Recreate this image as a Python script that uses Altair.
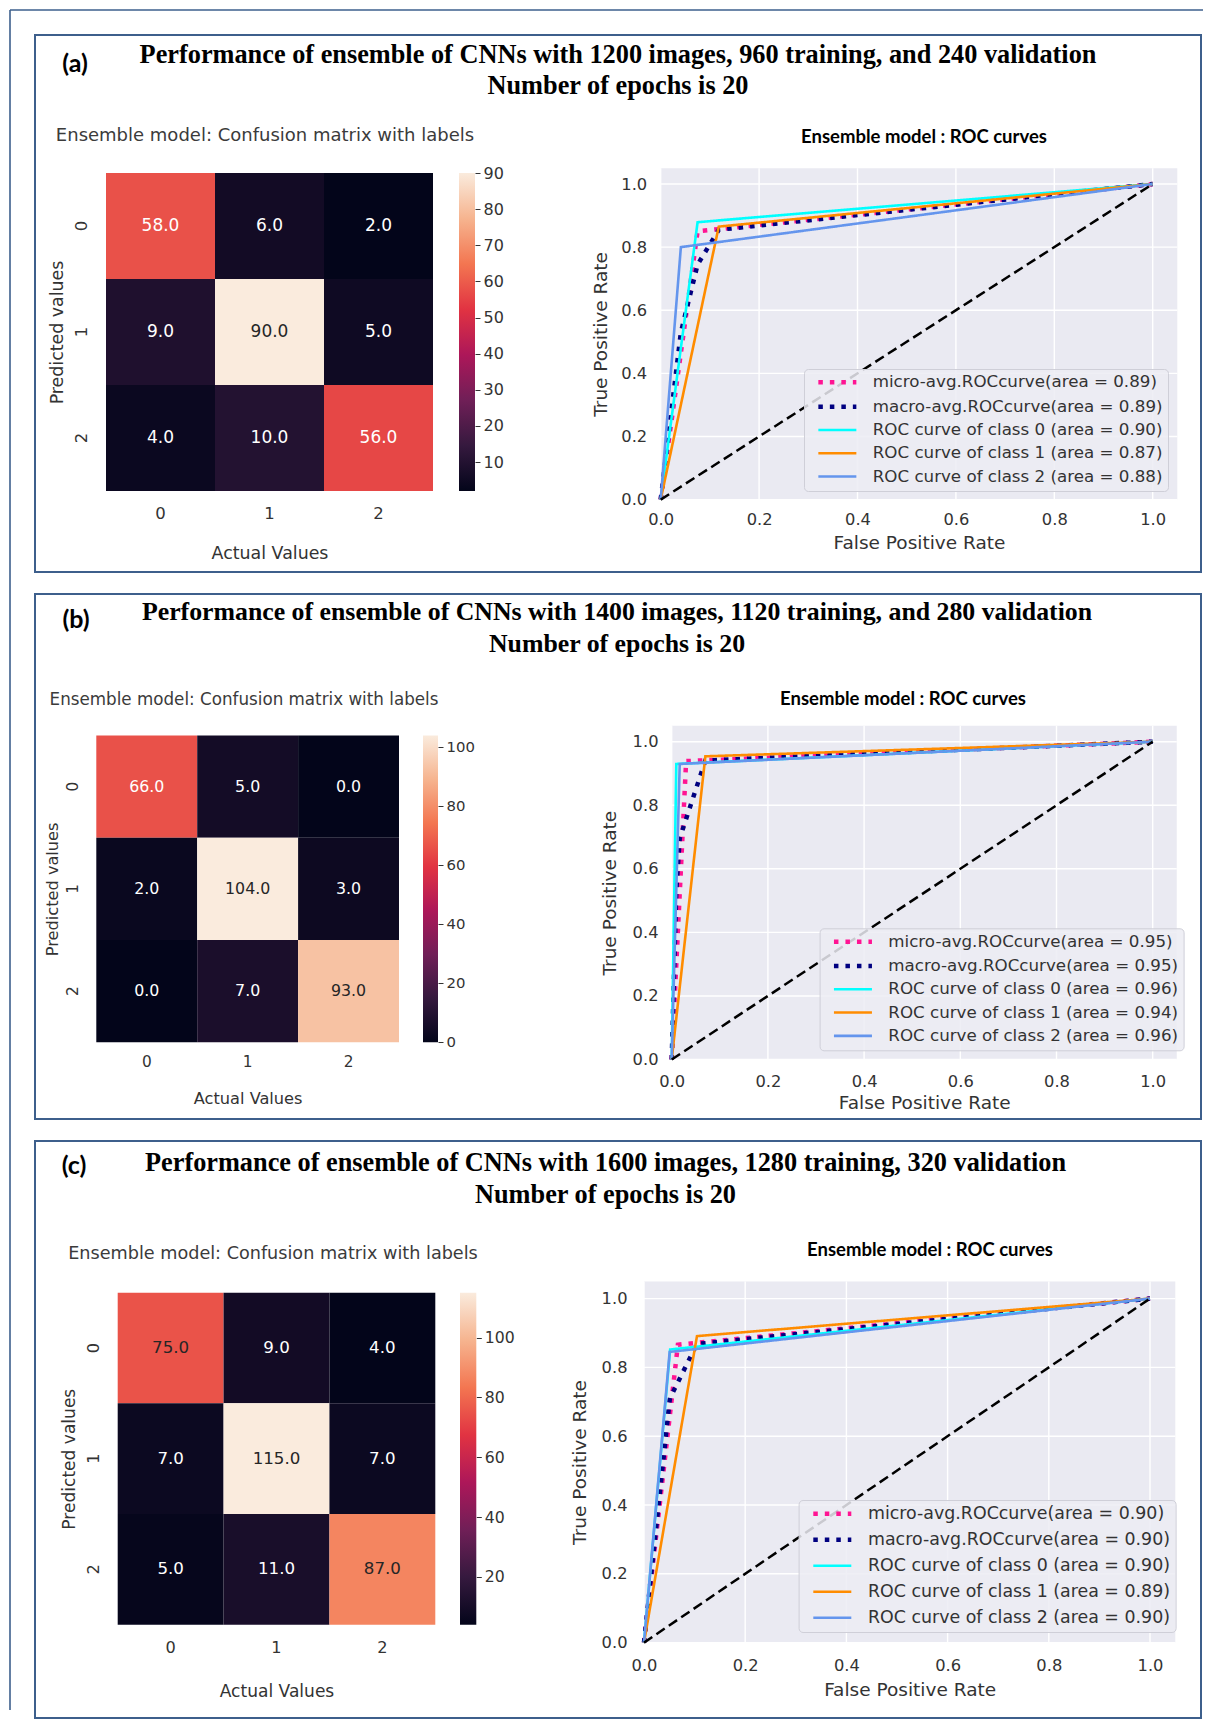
import altair as alt
import pandas as pd

# ---------------- data ----------------
CLASSES = ["0", "1", "2"]
ROC_TICKS = [0.0, 0.2, 0.4, 0.6, 0.8, 1.0]
DIAG_X = [0.0, 1.0]
DIAG_Y = [0.0, 1.0]
SERIES_FMT = [
    "micro-avg.ROCcurve(area = {:.2f})",
    "macro-avg.ROCcurve(area = {:.2f})",
    "ROC curve of class 0 (area = {:.2f})",
    "ROC curve of class 1 (area = {:.2f})",
    "ROC curve of class 2 (area = {:.2f})",
]

TAG_A = "(a)"
TITLE_A = ["Performance of ensemble of CNNs with 1200 images, 960 training, and 240 validation",
           "Number of epochs is 20"]
CM_A = [[58, 6, 2], [9, 90, 5], [4, 10, 56]]
CBAR_TICKS_A = [10, 20, 30, 40, 50, 60, 70, 80, 90]
AUC_A = [0.89, 0.89, 0.90, 0.87, 0.88]
FPR_A = [[0, 0.075, 1], [0, 0.041, 0.075, 0.118, 1], [0, 0.075, 1], [0, 0.118, 1], [0, 0.041, 1]]
TPR_A = [[0, 0.85, 1], [0, 0.53, 0.745, 0.855, 1], [0, 0.879, 1], [0, 0.865, 1], [0, 0.80, 1]]

TAG_B = "(b)"
TITLE_B = ["Performance of ensemble of CNNs with 1400 images, 1120 training, and 280 validation",
           "Number of epochs is 20"]
CM_B = [[66, 5, 0], [2, 104, 3], [0, 7, 93]]
CBAR_TICKS_B = [0, 20, 40, 60, 80, 100]
AUC_B = [0.95, 0.95, 0.96, 0.94, 0.96]
FPR_B = [[0, 0.030, 1], [0, 0.0096, 0.0167, 0.070, 1], [0, 0.0096, 1], [0, 0.070, 1], [0, 0.0167, 1]]
TPR_B = [[0, 0.939, 1], [0, 0.532, 0.696, 0.941, 1], [0, 0.930, 1], [0, 0.954, 1], [0, 0.930, 1]]

TAG_C = "(c)"
TITLE_C = ["Performance of ensemble of CNNs with 1600 images, 1280 training, 320 validation",
           "Number of epochs is 20"]
CM_C = [[75, 9, 4], [7, 115, 7], [5, 11, 87]]
CBAR_TICKS_C = [20, 40, 60, 80, 100]
AUC_C = [0.90, 0.90, 0.90, 0.89, 0.90]
FPR_C = [[0, 0.067, 1], [0, 0.0507, 0.0517, 0.1047, 1], [0, 0.0517, 1], [0, 0.1047, 1], [0, 0.0507, 1]]
TPR_C = [[0, 0.866, 1], [0, 0.704, 0.712, 0.868, 1], [0, 0.852, 1], [0, 0.891, 1], [0, 0.845, 1]]

HEAT_TITLE = "Ensemble model: Confusion matrix with labels"
ROC_TITLE = "Ensemble model : ROC curves"

# ---------------- style ----------------
ROCKET = ["#03051a", "#35193e", "#701f57", "#ad1759", "#e13342", "#f37651", "#f6b48f", "#faebdd"]
ROCKET_POS = [i / 7 for i in range(8)]
SERIES_COLORS = ["#ff1493", "#000080", "#00ffff", "#ff8c00", "#6495ed"]
SERIES_DASH = [[4.5, 7], [4.5, 7], [1, 0], [1, 0], [1, 0]]
SERIES_WIDTH = [4.5, 4.5, 2.6, 2.6, 2.6]
BOX = "#3d5f8c"
TXT = "#333333"
W = 1166

GEO_A = dict(H=537, fs=1.0, tfs=26.3,
             hx=[71, 398], hy=[138, 456], cx=[424, 440],
             hxlp=14, hxtp=23, hylp=25, hytp=7,
             rx0=625.7, rxu=492, ry0=464.6, ryu=315.6,
             rxlp=11.5, rxtp=6, rylp=14, rytp=10,
             leg=(769, 334), lfs=16.7, rowpad=5.3,
             tag=(40, 29), tx=583, ty=[20, 51], ht=(230, 101), rt=(889, 101.6))
GEO_B = dict(H=525, fs=0.93, tfs=25.8,
             hx=[61.3, 364], hy=[141.5, 448.2], cx=[388, 403],
             hxlp=12.5, hxtp=20.5, hylp=24.3, hytp=5,
             rx0=636.7, rxu=481, ry0=465.5, ryu=317.8,
             rxlp=13.5, rxtp=4, rylp=13.7, rytp=13,
             leg=(784.6, 334.3), lfs=16.7, rowpad=5.3,
             tag=(41, 25.5), tx=582, ty=[17.5, 49.5], ht=(209, 105.5), rt=(868, 104.5))
GEO_C = dict(H=577, fs=0.98, tfs=26.3,
             hx=[82.7, 400.3], hy=[151.7, 483.7], cx=[425, 441.3],
             hxlp=15, hxtp=28, hylp=24, hytp=7,
             rx0=609, rxu=506, ry0=501.6, ryu=344,
             rxlp=15, rxtp=6.5, rylp=17, rytp=11.5,
             leg=(763.6, 359), lfs=17.4, rowpad=7,
             tag=(39, 25), tx=570.5, ty=[21.7, 53.7], ht=(238, 113), rt=(895, 109))


def make_panel(tag, title, cm, cticks, auc, fprs, tprs, g, frame=False):
    H = g["H"]
    f = g["fs"]
    vals = [v for r in cm for v in r]
    vmin, vmax = min(vals), max(vals)

    # ---- heatmap ----
    recs = []
    for i, r in enumerate(cm):
        for j, v in enumerate(r):
            n = (v - vmin) / (vmax - vmin)
            recs.append(dict(pred=CLASSES[i], actual=CLASSES[j], value=v,
                             label=f"{v:.1f}", tc="#262626" if n > 0.638 else "#ffffff"))
    hm = pd.DataFrame(recs)
    xs = alt.Scale(type="band", domain=CLASSES, range=list(g["hx"]), paddingInner=0, paddingOuter=0)
    ys = alt.Scale(type="band", domain=CLASSES, range=list(g["hy"]), paddingInner=0, paddingOuter=0)
    cdom = [vmin + p * (vmax - vmin) for p in ROCKET_POS]
    cells = alt.Chart(hm).mark_rect().encode(
        x=alt.X("actual:N", scale=xs, sort=CLASSES,
                axis=alt.Axis(orient="bottom", offset=g["hy"][1] - H, title="Actual Values",
                              domain=False, ticks=False, tickSize=0, labelAngle=0,
                              labelPadding=g["hxlp"], titlePadding=g["hxtp"],
                              labelFontSize=16.5 * f, titleFontSize=17.4 * f)),
        y=alt.Y("pred:N", scale=ys, sort=CLASSES,
                axis=alt.Axis(orient="left", offset=-g["hx"][0], title="Predicted values",
                              domain=False, ticks=False, tickSize=0, labelAngle=270,
                              labelAlign="center", labelBaseline="middle",
                              labelPadding=g["hylp"], titlePadding=g["hytp"],
                              labelFontSize=16.5 * f, titleFontSize=17.4 * f)),
        color=alt.Color("value:Q", scale=alt.Scale(domain=cdom, range=ROCKET, interpolate="rgb"),
                        legend=None),
    )
    ctext = alt.Chart(hm).mark_text(font="DejaVu Sans", fontSize=17 * f).encode(
        x=alt.X("actual:N", scale=xs, axis=None),
        y=alt.Y("pred:N", scale=ys, axis=None),
        text="label:N",
        color=alt.Color("tc:N", scale=None),
    )

    # ---- colorbar ----
    grad = alt.LinearGradient(
        gradient="linear",
        stops=[alt.GradientStop(color=c, offset=p) for c, p in zip(ROCKET, ROCKET_POS)],
        x1=0, x2=0, y1=1, y2=0)
    cbdf = pd.DataFrame({"x0": [0.0], "x1": [1.0], "lo": [vmin], "hi": [vmax]})
    cbar = alt.Chart(cbdf).mark_rect(fill=grad).encode(
        x=alt.X("x0:Q", scale=alt.Scale(domain=[0, 1], range=list(g["cx"]), nice=False, zero=False), axis=None),
        x2="x1:Q",
        y=alt.Y("lo:Q", scale=alt.Scale(domain=[vmin, vmax], range=[g["hy"][1], g["hy"][0]],
                                        nice=False, zero=False),
                axis=alt.Axis(orient="right", offset=g["cx"][1] - W, values=cticks, format="d",
                              title=None, domain=False, ticks=True, tickSize=5, tickColor="#333333",
                              tickWidth=1, labelPadding=3, labelFontSize=16 * f, grid=False)),
        y2="hi:Q",
    )

    # ---- ROC ----
    rx = alt.Scale(domain=[0, 1.05], range=[g["rx0"], g["rx0"] + 1.05 * g["rxu"]], nice=False, zero=False)
    ry = alt.Scale(domain=[0, 1.05], range=[g["ry0"], g["ry0"] - 1.05 * g["ryu"]], nice=False, zero=False)
    bgdf = pd.DataFrame({"a": [0.0], "b": [1.05]})
    bg = alt.Chart(bgdf).mark_rect(fill="#eaeaf2").encode(
        x=alt.X("a:Q", scale=rx, axis=None), x2="b:Q",
        y=alt.Y("a:Q", scale=ry, axis=None), y2="b:Q")
    gdf = pd.DataFrame({"t": ROC_TICKS, "lo": [0.0] * len(ROC_TICKS), "hi": [1.05] * len(ROC_TICKS)})
    gv = alt.Chart(gdf).mark_rule(color="white", strokeWidth=1.4).encode(
        x=alt.X("t:Q", scale=rx,
                axis=alt.Axis(orient="bottom", offset=g["ry0"] - H, values=ROC_TICKS, format=".1f",
                              title="False Positive Rate", domain=False, ticks=False, tickSize=0,
                              labelFlush=False, labelPadding=g["rxlp"], titlePadding=g["rxtp"],
                              labelFontSize=16.3, titleFontSize=18.5, grid=False)),
        y=alt.Y("lo:Q", scale=ry, axis=None), y2="hi:Q")
    gh = alt.Chart(gdf).mark_rule(color="white", strokeWidth=1.4).encode(
        y=alt.Y("t:Q", scale=ry,
                axis=alt.Axis(orient="left", offset=-g["rx0"], values=ROC_TICKS, format=".1f",
                              title="True Positive Rate", domain=False, ticks=False, tickSize=0,
                              labelFlush=False, labelPadding=g["rylp"], titlePadding=g["rytp"],
                              labelFontSize=16.3, titleFontSize=18.5, grid=False)),
        x=alt.X("lo:Q", scale=rx, axis=None), x2="hi:Q")

    names = [fmt.format(a) for fmt, a in zip(SERIES_FMT, auc)]
    lrecs = []
    for k, (fx, ty) in enumerate(zip(fprs, tprs)):
        for xv, yv in zip(fx, ty):
            lrecs.append(dict(series=names[k], fpr=xv, tpr=yv))
    ldf = pd.DataFrame(lrecs)
    leg = alt.Legend(orient="none", legendX=g["leg"][0], legendY=g["leg"][1], title=None,
                     symbolType="M-3.8,0L3.8,0", symbolSize=100, symbolOffset=20,
                     labelOffset=27, labelFont="DejaVu Sans", labelFontSize=g["lfs"],
                     labelColor=TXT, labelLimit=600, rowPadding=g["rowpad"], padding=5,
                     fillColor="rgba(236,236,243,0.85)", strokeColor="#cfcfd8", cornerRadius=4)
    lines = alt.Chart(ldf).mark_line(strokeCap="butt").encode(
        x=alt.X("fpr:Q", scale=rx, axis=None),
        y=alt.Y("tpr:Q", scale=ry, axis=None),
        color=alt.Color("series:N", scale=alt.Scale(domain=names, range=SERIES_COLORS), legend=leg),
        strokeDash=alt.StrokeDash("series:N", scale=alt.Scale(domain=names, range=SERIES_DASH), legend=leg),
        strokeWidth=alt.StrokeWidth("series:N", scale=alt.Scale(type="ordinal", domain=names, range=SERIES_WIDTH),
                                    legend=leg),
    )
    ddf = pd.DataFrame({"x": DIAG_X, "y": DIAG_Y})
    diag = alt.Chart(ddf).mark_line(color="black", strokeDash=[10, 5], strokeWidth=2.5).encode(
        x=alt.X("x:Q", scale=rx, axis=None), y=alt.Y("y:Q", scale=ry, axis=None))

    # ---- text annotations ----
    tagdf = pd.DataFrame({"text": [tag], "x": [g["tag"][0]], "y": [g["tag"][1]]})
    tag_t = alt.Chart(tagdf).mark_text(font="Lato", fontWeight="bold", fontSize=25, color="black").encode(
        x=alt.X("x:Q", scale=None), y=alt.Y("y:Q", scale=None), text="text:N")
    tdf = pd.DataFrame({"text": title, "x": [g["tx"]] * len(title), "y": g["ty"]})
    title_t = alt.Chart(tdf).mark_text(font="Liberation Serif", fontWeight="bold", fontSize=g["tfs"],
                                       color="black").encode(
        x=alt.X("x:Q", scale=None), y=alt.Y("y:Q", scale=None), text="text:N")
    hdf = pd.DataFrame({"text": [HEAT_TITLE], "x": [g["ht"][0]], "y": [g["ht"][1]]})
    heat_t = alt.Chart(hdf).mark_text(font="DejaVu Sans", fontSize=18 * f, color="#3b3b3b").encode(
        x=alt.X("x:Q", scale=None), y=alt.Y("y:Q", scale=None), text="text:N")
    rdf = pd.DataFrame({"text": [ROC_TITLE], "x": [g["rt"][0]], "y": [g["rt"][1]]})
    roc_t = alt.Chart(rdf).mark_text(font="Lato", fontWeight="bold", fontSize=18.5, color="black").encode(
        x=alt.X("x:Q", scale=None), y=alt.Y("y:Q", scale=None), text="text:N")

    layers = [cells, ctext, cbar, bg, gv, gh, lines, diag, tag_t, title_t, heat_t, roc_t]
    if frame:
        one = pd.DataFrame({"k": [0]})
        fl = alt.Chart(one).mark_rule(color=BOX, strokeWidth=1.6).encode(
            x=alt.value(-25), y=alt.value(-25), y2=alt.value(1675))
        ft = alt.Chart(one).mark_rule(color=BOX, strokeWidth=1.6).encode(
            x=alt.value(-25), x2=alt.value(1168), y=alt.value(-25))
        layers += [fl, ft]

    panel = alt.layer(*layers).resolve_scale(
        x="independent", y="independent", color="independent",
        strokeDash="independent", strokeWidth="independent",
    ).properties(width=W, height=H, view=alt.ViewBackground(stroke=BOX, strokeWidth=2))
    return panel


pa = make_panel(TAG_A, TITLE_A, CM_A, CBAR_TICKS_A, AUC_A, FPR_A, TPR_A, GEO_A, frame=True)
pb = make_panel(TAG_B, TITLE_B, CM_B, CBAR_TICKS_B, AUC_B, FPR_B, TPR_B, GEO_B)
pc = make_panel(TAG_C, TITLE_C, CM_C, CBAR_TICKS_C, AUC_C, FPR_C, TPR_C, GEO_C)

chart = alt.vconcat(pa, pb, pc, spacing=22, bounds="flush").properties(
    padding={"left": 0, "top": 0, "right": 0, "bottom": 0},
    background="white",
).configure_axis(
    labelFont="DejaVu Sans", titleFont="DejaVu Sans", labelColor=TXT, titleColor=TXT,
    titleFontWeight="normal", grid=False,
)

chart.save("out.html", embed_options={"renderer": "svg", "actions": False})
